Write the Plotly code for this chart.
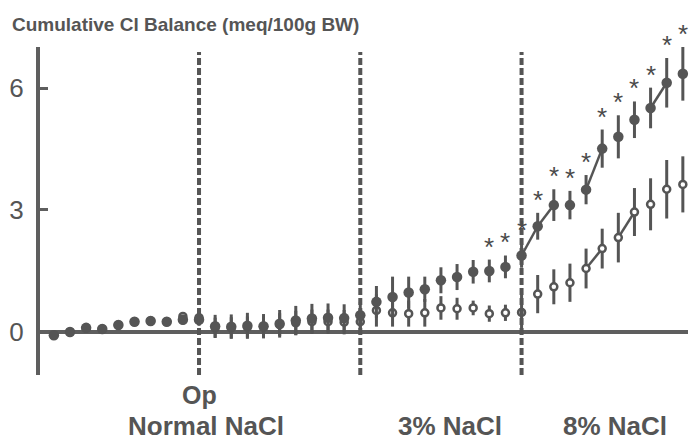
import plotly.graph_objects as go

# ---------------- data ----------------
days = list(range(40))

# cumulative Cl balance, experimental group (filled circles)
filled_vals = [-0.08, 0.00, 0.10, 0.07, 0.17, 0.25, 0.27, 0.25, 0.30, 0.30,
               0.14, 0.13, 0.15, 0.14, 0.20, 0.28, 0.33, 0.35, 0.34, 0.41,
               0.74, 0.86, 0.97, 1.05, 1.27, 1.35, 1.48, 1.50, 1.60, 1.88,
               2.60, 3.12, 3.12, 3.50, 4.51, 4.80, 5.22, 5.51, 6.13, 6.35]
filled_err = [0.05, 0.05, 0.05, 0.05, 0.05, 0.05, 0.05, 0.06, 0.12, 0.15,
              0.28, 0.30, 0.32, 0.30, 0.34, 0.36, 0.36, 0.35, 0.34, 0.33,
              0.39, 0.50, 0.39, 0.31, 0.32, 0.32, 0.29, 0.28, 0.28, 0.30,
              0.33, 0.39, 0.35, 0.36, 0.47, 0.53, 0.45, 0.50, 0.61, 0.66]

# control group (open circles)
open_vals = [-0.08, 0.00, 0.10, 0.07, 0.17, 0.25, 0.27, 0.25, 0.38, 0.35,
             0.10, 0.10, 0.12, 0.12, 0.18, 0.22, 0.25, 0.25, 0.24, 0.25,
             0.53, 0.47, 0.45, 0.47, 0.59, 0.57, 0.59, 0.45, 0.47, 0.48,
             0.93, 1.11, 1.21, 1.56, 2.05, 2.32, 2.95, 3.14, 3.51, 3.63]
open_err = [0.05, 0.05, 0.05, 0.05, 0.05, 0.05, 0.05, 0.06, 0.10, 0.12,
            0.25, 0.26, 0.26, 0.26, 0.28, 0.30, 0.30, 0.30, 0.30, 0.30,
            0.40, 0.34, 0.32, 0.34, 0.29, 0.27, 0.18, 0.20, 0.20, 0.45,
            0.47, 0.43, 0.47, 0.49, 0.49, 0.61, 0.59, 0.64, 0.72, 0.69]

# days whose filled point carries a significance asterisk
significant_days = [27, 28, 29, 30, 31, 32, 33, 34, 35, 36, 37, 38, 39]

# segments drawn between consecutive points (start day of each segment)
filled_links = [29, 30, 33, 37]
open_links = [33, 35]

# phase boundaries (Op, start of 3% NaCl, start of 8% NaCl)
phase_days = [9, 19, 29]

y_ticks = [0, 3, 6]
title_text = "Cumulative Cl Balance (meq/100g BW)"
phase_labels = ["Normal NaCl", "3% NaCl", "8% NaCl"]
op_label = "Op"

# ---------------- figure ----------------
INK = "#555555"
AX = "#5e5e5e"
FONT = "Liberation Sans, Arial, sans-serif"
Y_MIN, Y_MAX = -1.06, 7.01


def link_xy(vals, starts):
    xs, ys = [], []
    for s in starts:
        xs += [days[s], days[s + 1], None]
        ys += [vals[s], vals[s + 1], None]
    return xs, ys


fig = go.Figure()

lx, ly = link_xy(filled_vals, filled_links)
fig.add_trace(go.Scatter(x=lx, y=ly, mode="lines",
                         line=dict(color=INK, width=2.5), hoverinfo="skip",
                         showlegend=False, cliponaxis=False))
lx, ly = link_xy(open_vals, open_links)
fig.add_trace(go.Scatter(x=lx, y=ly, mode="lines",
                         line=dict(color=INK, width=2.5), hoverinfo="skip",
                         showlegend=False, cliponaxis=False))

fig.add_trace(go.Scatter(
    x=days, y=open_vals, mode="markers", name="control",
    marker=dict(size=7, color="white", line=dict(width=2.5, color=INK)),
    error_y=dict(type="data", array=open_err, visible=True,
                 color=INK, thickness=3, width=0),
    showlegend=False, cliponaxis=False))

fig.add_trace(go.Scatter(
    x=days, y=filled_vals, mode="markers", name="experimental",
    marker=dict(size=10.5, color=INK, line=dict(width=0)),
    error_y=dict(type="data", array=filled_err, visible=True,
                 color=INK, thickness=3, width=0),
    showlegend=False, cliponaxis=False))

# significance asterisks (paper y so they may sit above the axis top)
for d in significant_days:
    yv = filled_vals[d] + filled_err[d] + 0.32
    fig.add_annotation(x=days[d], xref="x", yref="paper",
                       y=(yv - Y_MIN) / (Y_MAX - Y_MIN),
                       xanchor="center", yanchor="middle",
                       text="*", showarrow=False,
                       font=dict(size=26, color="#4a4a4a", family=FONT))

for d in phase_days:
    fig.add_shape(type="line", xref="x", yref="paper", x0=d, x1=d,
                  y0=0, y1=0.985,
                  line=dict(color=INK, width=4, dash="7px,3px"))

fig.add_annotation(x=-0.046, y=1.07, xref="paper", yref="paper",
                   xanchor="left", yanchor="middle", text=title_text,
                   showarrow=False,
                   font=dict(size=19, color=INK, family=FONT, weight="bold"))

fig.add_annotation(x=phase_days[0], y=-0.061, xref="x", yref="paper",
                   xanchor="center", yanchor="middle",
                   text=op_label, showarrow=False,
                   font=dict(size=25, color=INK, family=FONT, weight="bold"))

label_x = [9.45, 24.55, 34.8]
for lab, xx in zip(phase_labels, label_x):
    fig.add_annotation(x=xx, y=-0.155, xref="x", yref="paper",
                       xanchor="center", yanchor="middle", borderpad=0,
                       text=lab, showarrow=False,
                       font=dict(size=26, color=INK, family=FONT, weight="bold"))

fig.update_xaxes(range=[-0.86, 39.32], visible=False)
fig.update_yaxes(range=[Y_MIN, Y_MAX], tickvals=y_ticks,
                 showgrid=False, zeroline=True, zerolinewidth=4,
                 zerolinecolor=AX, showline=True, linewidth=4,
                 linecolor=AX, ticks="inside", ticklen=8,
                 tickwidth=3, tickcolor=AX, ticklabelstandoff=7,
                 tickfont=dict(size=26, color=INK, family=FONT))

fig.update_layout(width=690, height=441,
                  margin=dict(l=40, r=2, t=47, b=66),
                  paper_bgcolor="white", plot_bgcolor="white")

fig.write_html("out.html")
